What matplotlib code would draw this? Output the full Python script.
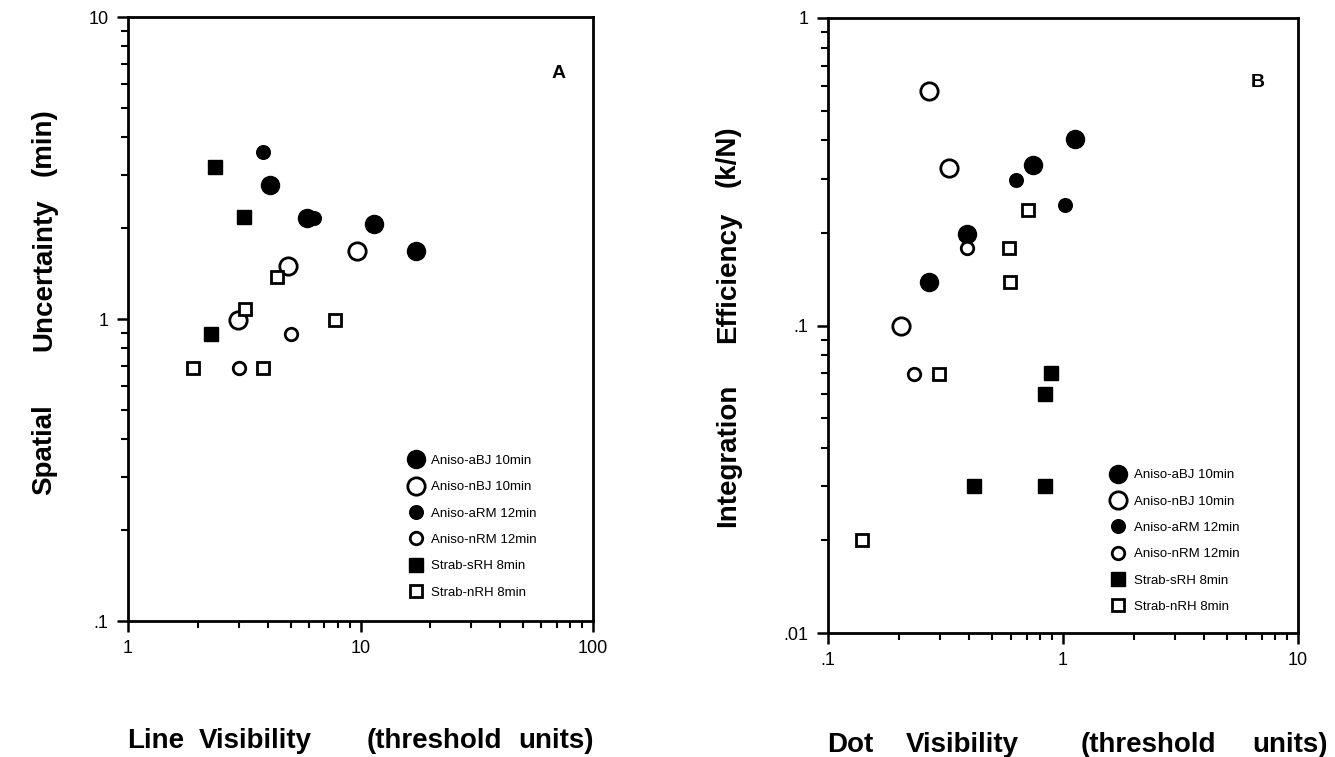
import matplotlib
matplotlib.use("Agg")
import matplotlib.pyplot as plt
from matplotlib.lines import Line2D
from matplotlib.ticker import LogLocator, FuncFormatter, NullFormatter

plt.rcParams['font.family'] = ['Liberation Sans', 'DejaVu Sans']

# ---- Panel A data: Line visibility vs spatial uncertainty ----
a_aBJ_x = [4.1, 5.9, 11.4, 17.3]
a_aBJ_y = [2.78, 2.16, 2.06, 1.68]
a_nBJ_x = [2.96, 4.9, 9.7]
a_nBJ_y = [0.99, 1.50, 1.68]
a_aRM_x = [3.8, 6.3]
a_aRM_y = [3.58, 2.16]
a_nRM_x = [3.0, 5.0]
a_nRM_y = [0.69, 0.89]
a_sRH_x = [2.37, 3.17, 2.27]
a_sRH_y = [3.18, 2.17, 0.89]
a_nRH_x = [1.9, 3.19, 3.8, 4.37, 7.75]
a_nRH_y = [0.69, 1.08, 0.69, 1.38, 0.99]

# ---- Panel B data: Dot visibility vs integration efficiency ----
b_aBJ_x = [0.27, 0.39, 0.745, 1.13]
b_aBJ_y = [0.139, 0.199, 0.332, 0.404]
b_nBJ_x = [0.205, 0.27, 0.328]
b_nBJ_y = [0.100, 0.578, 0.325]
b_aRM_x = [0.628, 1.02]
b_aRM_y = [0.297, 0.247]
b_nRM_x = [0.233, 0.392]
b_nRM_y = [0.0695, 0.178]
b_sRH_x = [0.42, 0.84, 0.84, 0.89]
b_sRH_y = [0.030, 0.030, 0.060, 0.070]
b_nRH_x = [0.14, 0.298, 0.587, 0.597, 0.708]
b_nRH_y = [0.020, 0.0695, 0.178, 0.139, 0.237]

labels = ["Aniso-aBJ 10min", "Aniso-nBJ 10min", "Aniso-aRM 12min",
          "Aniso-nRM 12min", "Strab-sRH 8min", "Strab-nRH 8min"]

xlabel_A = ["Line", "Visibility", "(threshold", "units)"]
xlabel_B = ["Dot", "Visibility", "(threshold", "units)"]
ylabel_A = ["Spatial", "Uncertainty", "(min)"]
ylabel_B = ["Integration", "Efficiency", "(k/N)"]

styles = [
    dict(marker='o', ms=13.0, mfc='black', mec='black', mew=1.0),
    dict(marker='o', ms=12.5, mfc='white', mec='black', mew=2.0),
    dict(marker='o', ms=9.8, mfc='black', mec='black', mew=1.0),
    dict(marker='o', ms=9.0, mfc='white', mec='black', mew=2.0),
    dict(marker='s', ms=9.5, mfc='black', mec='black', mew=1.0),
    dict(marker='s', ms=9.0, mfc='white', mec='black', mew=2.0),
]

W, H = 1335, 757
fig = plt.figure(figsize=(W / 100, H / 100), dpi=100)

def px_axes(l, r, t, b):
    return fig.add_axes([l / W, 1 - b / H, (r - l) / W, (b - t) / H])

axA = px_axes(128, 593, 17, 621)
axB = px_axes(828, 1298, 18, 633)

def fmt(v, pos):
    if v >= 1:
        return "%d" % round(v)
    s = ("%g" % v)
    return s.lstrip('0')

def setup(ax, xlim, ylim):
    ax.set_xscale('log')
    ax.set_yscale('log')
    ax.set_xlim(*xlim)
    ax.set_ylim(*ylim)
    for sp in ax.spines.values():
        sp.set_linewidth(2.0)
    ax.xaxis.set_major_locator(LogLocator(base=10, numticks=10))
    ax.yaxis.set_major_locator(LogLocator(base=10, numticks=10))
    ax.xaxis.set_minor_locator(LogLocator(base=10, subs=range(2, 10), numticks=20))
    ax.yaxis.set_minor_locator(LogLocator(base=10, subs=range(2, 10), numticks=20))
    ax.xaxis.set_major_formatter(FuncFormatter(fmt))
    ax.yaxis.set_major_formatter(FuncFormatter(fmt))
    ax.xaxis.set_minor_formatter(NullFormatter())
    ax.yaxis.set_minor_formatter(NullFormatter())
    ax.tick_params(which='major', direction='out', length=8, width=1.8,
                   labelsize=13, pad=6, top=False, right=False)
    ax.tick_params(which='minor', direction='out', length=5, width=1.5,
                   top=False, right=False)

def draw(ax, data):
    handles = []
    for (xs, ys), st, lab in zip(data, styles, labels):
        ax.plot(xs, ys, ls='none', **st, zorder=3)
        handles.append(Line2D([], [], ls='none', **st, label=lab))
    return handles

setup(axA, (1, 100), (0.1, 10))
hA = draw(axA, [(a_aBJ_x, a_aBJ_y), (a_nBJ_x, a_nBJ_y), (a_aRM_x, a_aRM_y),
                (a_nRM_x, a_nRM_y), (a_sRH_x, a_sRH_y), (a_nRH_x, a_nRH_y)])
setup(axB, (0.1, 10), (0.01, 1))
hB = draw(axB, [(b_aBJ_x, b_aBJ_y), (b_nBJ_x, b_nBJ_y), (b_aRM_x, b_aRM_y),
                (b_nRM_x, b_nRM_y), (b_sRH_x, b_sRH_y), (b_nRH_x, b_nRH_y)])

leg_kw = dict(frameon=False, fontsize=9.5, handletextpad=0.6,
              labelspacing=1.07, handlelength=1.2, borderaxespad=0)
axA.legend(handles=hA, loc='lower left', bbox_to_anchor=(0.59, 0.028), **leg_kw)
axB.legend(handles=hB, loc='lower left', bbox_to_anchor=(0.59, 0.024), **leg_kw)

axA.text(0.925, 0.907, "A", transform=axA.transAxes, fontsize=14,
         fontweight='bold', ha='center', va='center')
axB.text(0.915, 0.895, "B", transform=axB.transAxes, fontsize=14,
         fontweight='bold', ha='center', va='center')

lab_kw = dict(fontsize=20, fontweight='bold')
# x-axis titles, word by word (wide spacing as in the original)
for word, xc in zip(xlabel_A, [156, 255, 434, 556]):
    fig.text(xc / W, 1 - 741 / H, word, ha='center', va='center', **lab_kw)
for word, xc in zip(xlabel_B, [850, 962, 1148, 1290]):
    fig.text(xc / W, 1 - 745 / H, word, ha='center', va='center', **lab_kw)
# y-axis titles, word by word
for word, yc in zip(ylabel_A, [450, 275, 142]):
    fig.text(44 / W, 1 - yc / H, word, ha='center', va='center',
             rotation=90, **lab_kw)
for word, yc in zip(ylabel_B, [455, 277, 156]):
    fig.text(728 / W, 1 - yc / H, word, ha='center', va='center',
             rotation=90, **lab_kw)

fig.savefig("out.png", dpi=100)
